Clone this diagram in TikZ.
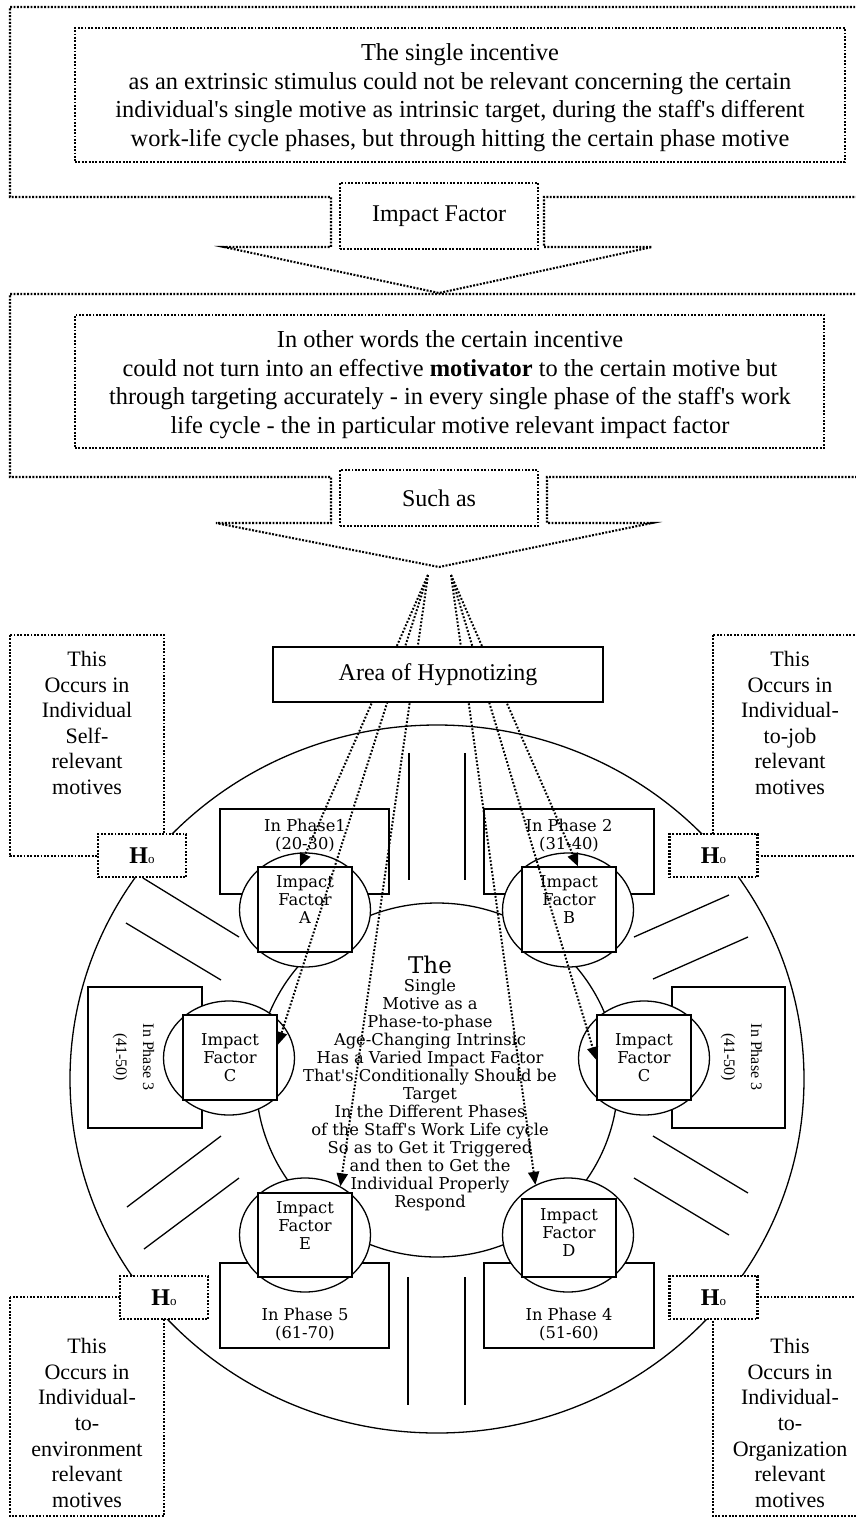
\documentclass[tikz,border=0pt]{standalone}
\usepackage{fontspec}
\setmainfont{Liberation Serif}
\newfontfamily\cent{DejaVu Serif}
\usetikzlibrary{arrows.meta,shapes.geometric}
\newcommand\ap{\textquotesingle}
\begin{document}
\begin{tikzpicture}[x=1pt,y=-1pt,
  dotline/.style={line width=2.1pt, dash pattern=on 1.9pt off 1.5pt},
  dotbox/.style={draw, dotline, inner sep=0pt},
  sline/.style={line width=1.3pt},
  sbox/.style={draw, sline, fill=white, inner sep=0pt},
  ell/.style={draw, ellipse, sline, fill=white, inner sep=0pt, minimum width=131pt, minimum height=114pt},
  iftext/.style={font=\cent\fontsize{16.3}{18}\selectfont, align=center, inner sep=0pt},
  rottext/.style={font=\fontsize{16}{27}\selectfont, align=center, inner sep=0pt, rotate=-90},
  bigtext/.style={font=\fontsize{24.4}{28.5}\selectfont, align=center, inner sep=0pt},
  labtext/.style={font=\fontsize{24}{28}\selectfont},
  cornertext/.style={font=\fontsize{22}{25.6}\selectfont, align=center, inner sep=0pt},
  hobox/.style={dotbox, fill=white, minimum width=88pt, minimum height=43pt},
  fan/.style={line width=2pt, dash pattern=on 1.8pt off 1.8pt, -{Triangle[length=13pt,width=11pt]}}
]
\useasboundingbox (0,0) rectangle (856,1518);
\fill[white] (0,0) rectangle (856,1518);

% ---------- top callout arrows ----------
\draw[dotline] (862,7) -- (10,7) -- (10,197) -- (331,197) -- (331,247) -- (224,247)
  -- (439,293) -- (652,247) -- (544,247) -- (544,197) -- (862,197);
\node[dotbox, minimum width=770pt, minimum height=134pt] (tb1) at (460,95) {};
\node[bigtext] (t1) at (460,97.5) {The single incentive\\as an extrinsic stimulus could not be relevant concerning the certain\\individual\ap s single motive as intrinsic target, during the staff\ap s different\\work-life cycle phases, but through hitting the certain phase motive};
\node[dotbox, fill=white, minimum width=198pt, minimum height=66pt, labtext] (if) at (439,216) {Impact Factor};

\draw[dotline] (862,294) -- (10,294) -- (10,477) -- (331,477) -- (331,523) -- (216,523)
  -- (439,567) -- (652,523) -- (547,523) -- (547,477) -- (862,477);
\node[dotbox, minimum width=749pt, minimum height=133pt] (tb2) at (449.5,381.5) {};
\node[bigtext] (t2) at (450,384.5) {In other words the certain incentive\\could not turn into an effective \textbf{motivator} to the certain motive but\\through targeting accurately - in every single phase of the staff\ap s work\\life cycle - the in particular motive relevant impact factor};
\node[dotbox, fill=white, minimum width=198pt, minimum height=56pt, labtext] (such) at (439,498) {Such as};

% ---------- circles and spokes ----------
\node[draw, ellipse, sline, inner sep=0pt, minimum width=734pt, minimum height=708pt] (outer) at (437,1079) {};
\node[draw, ellipse, sline, inner sep=0pt, minimum width=362pt, minimum height=354pt] (inner) at (437,1080) {};
\draw[sline] (143,878) -- (239,937);
\draw[sline] (126,923) -- (221,980);
\draw[sline] (221,1136) -- (127,1207);
\draw[sline] (239,1178) -- (144,1249);
\draw[sline] (729,895) -- (634,937);
\draw[sline] (748,937) -- (653,979);
\draw[sline] (653,1136) -- (748,1193);
\draw[sline] (634,1178) -- (729,1235);
\draw[sline] (409,753) -- (409,880);
\draw[sline] (465,753) -- (465,880);
\draw[sline] (408,1277) -- (408,1405);
\draw[sline] (465,1277) -- (465,1405);

% ---------- phase boxes ----------
\node[sbox, minimum width=169pt, minimum height=85pt] (ph1) at (304.5,851.5) {};
\node[sbox, minimum width=170pt, minimum height=85pt] (ph2) at (569,851.5) {};
\node[sbox, minimum width=114pt, minimum height=141pt] (ph3l) at (145,1057.5) {};
\node[sbox, minimum width=113pt, minimum height=141pt] (ph3r) at (728.5,1057.5) {};
\node[sbox, minimum width=169pt, minimum height=85pt] (ph5) at (304.5,1305.5) {};
\node[sbox, minimum width=170pt, minimum height=85pt] (ph4) at (569,1305.5) {};
\node[iftext] (pt1) at (305,836) {In Phase1\\(20-30)};
\node[iftext] (pt2) at (569,836) {In Phase 2\\(31-40)};
\node[iftext] (pt5) at (305,1324.5) {In Phase 5\\(61-70)};
\node[iftext] (pt4) at (569,1324.5) {In Phase 4\\(51-60)};
\node[rottext] (pt3l) at (133.5,1057) {In Phase 3\\(41-50)};
\node[rottext] (pt3r) at (741.5,1057) {In Phase 3\\(41-50)};

% ---------- impact factor circles ----------
\node[ell] (ellA) at (305,910) {};
\node[ell] (ellB) at (568,910) {};
\node[ell] (ellCL) at (229,1058) {};
\node[ell] (ellCR) at (644,1058) {};
\node[ell] (ellE) at (305,1235) {};
\node[ell] (ellD) at (568,1235) {};
\node[sbox, minimum width=94pt, minimum height=85pt] (ifA) at (305,909.5) {};
\node[sbox, minimum width=94pt, minimum height=85pt] (ifB) at (569,909.5) {};
\node[sbox, minimum width=94pt, minimum height=85pt] (ifCL) at (230,1057.5) {};
\node[sbox, minimum width=94pt, minimum height=85pt] (ifCR) at (644,1057.5) {};
\node[sbox, minimum width=94pt, minimum height=84pt] (ifE) at (305,1235) {};
\node[sbox, minimum width=94pt, minimum height=78pt] (ifD) at (569,1238) {};
\node[iftext] (tA) at (305,900) {Impact\\Factor\\A};
\node[iftext] (tB) at (569,900) {Impact\\Factor\\B};
\node[iftext] (tCL) at (230,1058) {Impact\\Factor\\C};
\node[iftext] (tCR) at (644,1058) {Impact\\Factor\\C};
\node[iftext] (tE) at (305,1226) {Impact\\Factor\\E};
\node[iftext] (tD) at (569,1233) {Impact\\Factor\\D};

% ---------- centre text ----------
\node[iftext] (ctext) at (430,1083) {{\fontsize{23}{18}\selectfont The}\\Single\\Motive as a\\Phase-to-phase\\Age-Changing Intrinsic\\Has a Varied Impact Factor\\That\ap s Conditionally Should be\\Target\\In the Different Phases\\of the Staff\ap s Work Life cycle\\So as to Get it Triggered\\and then to Get the\\Individual Properly\\Respond};

% ---------- fan arrows ----------
\coordinate (L0) at (428,575);
\coordinate (R0) at (451,575);
\draw[fan] (L0) -- ([xshift=-5pt]ifA.north);
\draw[fan] (L0) -- ([yshift=12.5pt]ifCL.east);
\draw[fan] (L0) -- (ellE.54);
\draw[fan] (R0) -- (ellD.123);
\draw[fan] (R0) -- ([yshift=-2.5pt]ifCR.west);
\draw[fan] (R0) -- ([xshift=9pt]ifB.north);
\node[sbox, minimum width=330pt, minimum height=55pt, labtext] (area) at (438,674.5) {Area of Hypnotizing};

% ---------- corner callouts ----------
\draw[dotline] (10,635) rectangle (164,856);
\draw[dotline] (713,635) rectangle (862,856);
\draw[dotline] (10,1297) rectangle (164,1516);
\draw[dotline] (713,1297) rectangle (862,1516);
\node[cornertext] (cTL) at (87,723) {This\\Occurs in\\Individual\\Self-\\relevant\\motives};
\node[cornertext] (cTR) at (790,723) {This\\Occurs in\\Individual-\\to-job\\relevant\\motives};
\node[cornertext] (cBL) at (87,1423) {This\\Occurs in\\Individual-\\to-\\environment\\relevant\\motives};
\node[cornertext] (cBR) at (790,1423) {This\\Occurs in\\Individual-\\to-\\Organization\\relevant\\motives};
\node[hobox] (hoTL) at (142,855.5) {{\fontsize{24}{24}\selectfont\bfseries H}{\fontsize{13}{13}\selectfont o}};
\node[hobox] (hoTR) at (713.5,855.5) {{\fontsize{24}{24}\selectfont\bfseries H}{\fontsize{13}{13}\selectfont o}};
\node[hobox] (hoBL) at (164,1297.5) {{\fontsize{24}{24}\selectfont\bfseries H}{\fontsize{13}{13}\selectfont o}};
\node[hobox] (hoBR) at (713.5,1297.5) {{\fontsize{24}{24}\selectfont\bfseries H}{\fontsize{13}{13}\selectfont o}};
\end{tikzpicture}
\end{document}
